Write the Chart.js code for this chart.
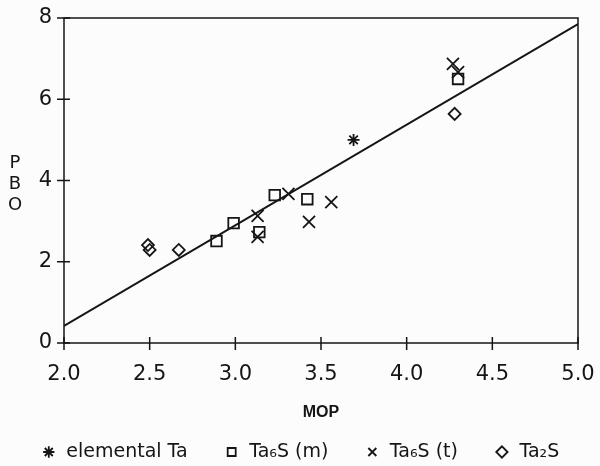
<!DOCTYPE html>
<html>
<head>
<meta charset="utf-8">
<script src="https://cdn.jsdelivr.net/npm/chart.js@4.4.1/dist/chart.umd.min.js"></script>
<style>
  html, body { margin: 0; padding: 0; background: #fcfcfc; }
  #wrap { width: 600px; height: 466px; position: relative; }
</style>
</head>
<body>
<div id="wrap"><canvas id="chart"></canvas></div>
<script>
// values
const elementalX = [3.69];
const elementalY = [5.00];
const ta6smX = [2.89, 2.99, 3.14, 3.23, 3.42, 4.30];
const ta6smY = [2.51, 2.95, 2.73, 3.64, 3.54, 6.50];
const ta6stX = [3.13, 3.13, 3.31, 3.43, 3.56, 4.27, 4.30];
const ta6stY = [3.13, 2.61, 3.67, 2.98, 3.47, 6.87, 6.67];
const ta2sX = [2.49, 2.50, 2.67, 4.28];
const ta2sY = [2.41, 2.29, 2.29, 5.64];
const fitX = [2.0, 5.0];
const fitY = [0.42, 7.85];
const xTicks = [2.0, 2.5, 3.0, 3.5, 4.0, 4.5, 5.0];
const yTicks = [0, 2, 4, 6, 8];
const seriesNames = ['elemental Ta', 'Ta₆S (m)', 'Ta₆S (t)', 'Ta₂S'];

const ink = '#151515';
const pts = (xs, ys) => xs.map((x, i) => ({ x: x, y: ys[i] }));

// box round the plot, ticks crossing the axes, stacked y title
const frame = {
  id: 'frame',
  beforeDatasetsDraw(chart) {
    const { ctx, chartArea: a, scales: { x, y } } = chart;
    ctx.save();
    ctx.strokeStyle = ink;
    ctx.lineWidth = 1.5;
    ctx.strokeRect(a.left, a.top, a.right - a.left, a.bottom - a.top);
    ctx.beginPath();
    x.ticks.forEach(t => {
      const px = x.getPixelForValue(t.value);
      ctx.moveTo(px, a.bottom - 6);
      ctx.lineTo(px, a.bottom + 7);
    });
    y.ticks.forEach(t => {
      const py = y.getPixelForValue(t.value);
      ctx.moveTo(a.left - 7, py);
      ctx.lineTo(a.left + 6, py);
    });
    ctx.stroke();
    ctx.fillStyle = ink;
    ctx.font = '18px "DejaVu Sans"';
    ctx.textAlign = 'center';
    ctx.textBaseline = 'middle';
    ['P', 'B', 'O'].forEach((c, i) => ctx.fillText(c, 15, 163 + i * 21));
    ctx.restore();
  }
};

const scatterSet = (label, data, style, r) => ({
  type: 'scatter',
  label: label,
  data: data,
  pointStyle: style,
  pointRadius: r,
  pointHoverRadius: r,
  borderWidth: 1.8,
  pointBorderWidth: 1.8,
  borderColor: ink,
  pointBorderColor: ink,
  backgroundColor: 'rgba(0,0,0,0)',
  pointBackgroundColor: 'rgba(0,0,0,0)'
});

new Chart(document.getElementById('chart'), {
  type: 'scatter',
  data: {
    datasets: [
      scatterSet(seriesNames[0], pts(elementalX, elementalY), 'star', 6),
      scatterSet(seriesNames[1], pts(ta6smX, ta6smY), 'rect', 7.5),
      scatterSet(seriesNames[2], pts(ta6stX, ta6stY), 'crossRot', 8.5),
      scatterSet(seriesNames[3], pts(ta2sX, ta2sY), 'rectRot', 6),
      {
        type: 'line',
        label: 'fit',
        data: pts(fitX, fitY),
        borderColor: ink,
        borderWidth: 2,
        pointRadius: 0,
        fill: false
      }
    ]
  },
  options: {
    responsive: true,
    maintainAspectRatio: false,
    animation: false,
    layout: { autoPadding: false, padding: { top: 18, right: 0, left: 0, bottom: 0 } },
    plugins: {
      tooltip: { enabled: false },
      legend: {
        position: 'bottom',
        maxHeight: 59.5,
        labels: {
          usePointStyle: true,
          boxWidth: 16,
          boxHeight: 8,
          padding: 36,
          color: ink,
          font: { family: 'DejaVu Sans', size: 19 },
          filter: item => item.text !== 'fit'
        }
      }
    },
    scales: {
      x: {
        type: 'linear',
        min: 2.0,
        max: 5.0,
        afterBuildTicks: s => { s.ticks = xTicks.map(v => ({ value: v })); },
        afterFit: s => { s.height = 63.5; },
        grid: { display: false, drawTicks: true, tickLength: 19 },
        border: { display: false },
        ticks: {
          padding: 0,
          color: ink,
          font: { family: 'DejaVu Sans', size: 21 },
          callback: v => v.toFixed(1)
        },
        title: {
          display: true,
          text: 'MOP',
          color: ink,
          font: { family: 'Liberation Sans', size: 16, weight: 'bold' },
          padding: { top: 0, bottom: -16 }
        }
      },
      y: {
        type: 'linear',
        min: 0,
        max: 8,
        afterBuildTicks: s => { s.ticks = yTicks.map(v => ({ value: v })); },
        afterFit: s => { s.width = 64; },
        grid: { display: false, drawTicks: true, tickLength: 12 },
        border: { display: false },
        ticks: {
          padding: 0,
          color: ink,
          font: { family: 'DejaVu Sans', size: 21 },
          callback: v => String(v)
        }
      },
      // empty strip on the right so the legend can use the full width
      yRight: {
        type: 'linear',
        position: 'right',
        min: 0,
        max: 8,
        afterFit: s => { s.width = 22; },
        grid: { display: false, drawTicks: false },
        border: { display: false },
        ticks: { display: false }
      }
    }
  },
  plugins: [frame]
});
</script>
</body>
</html>
